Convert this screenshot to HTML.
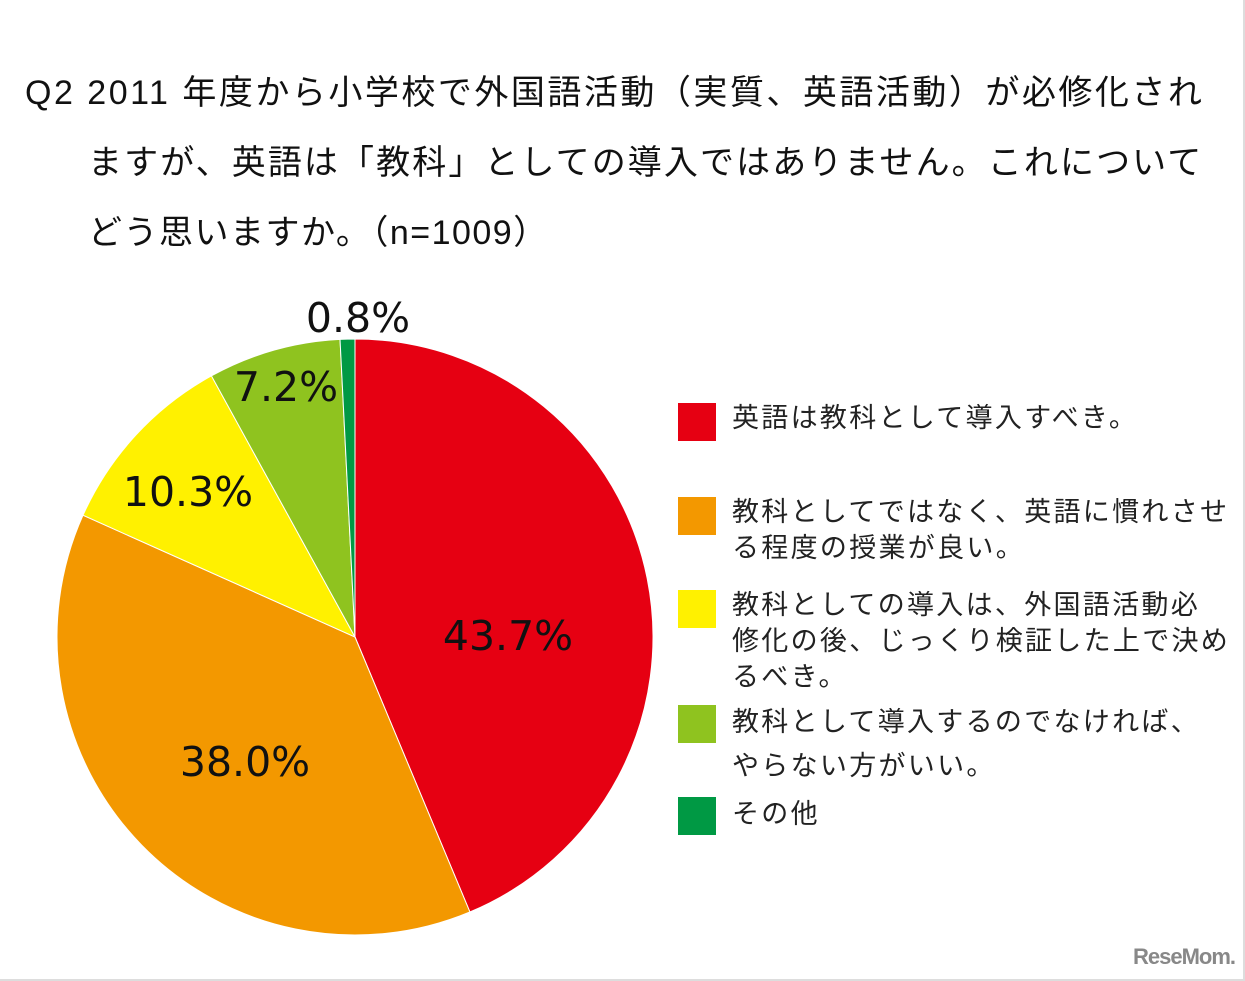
<!DOCTYPE html>
<html><head><meta charset="utf-8"><style>
body{margin:0;width:1245px;height:981px;background:#fff;overflow:hidden;font-family:"Liberation Sans","Noto Sans CJK JP",sans-serif;}
#frame{position:absolute;left:0;top:0;width:1243px;height:979px;border-right:2px solid #ddd;border-bottom:2px solid #ddd;}
.t{position:absolute;font-size:34px;color:#111;white-space:nowrap;}
.lg{position:absolute;font-size:27px;color:#222;line-height:36px;letter-spacing:2.3px;white-space:nowrap;}
.sw{position:absolute;left:678px;width:38px;height:38px;}
</style></head><body>
<div id="frame"></div>
<div class="t" style="left:25px;top:65px;letter-spacing:2.5px">Q2 2011 年度から小学校で外国語活動（実質、英語活動）が必修化され</div>
<div class="t" style="left:88px;top:135px;letter-spacing:2.1px">ますが、英語は「教科」としての導入ではありません。これについて</div>
<div class="t" style="left:88px;top:205px;letter-spacing:1.5px">どう思いますか。（n=1009）</div>
<svg id="pie" width="1245" height="981" style="position:absolute;left:0;top:0"></svg>
<div class="sw" style="top:403px;background:#e60012"></div>
<div class="lg" style="left:732px;top:400px">英語は教科として導入すべき。</div>
<div class="sw" style="top:497px;background:#f39800"></div>
<div class="lg" style="left:732px;top:494px">教科としてではなく、英語に慣れさせ<br>る程度の授業が良い。</div>
<div class="sw" style="top:590px;background:#fff100"></div>
<div class="lg" style="left:732px;top:587px">教科としての導入は、外国語活動必<br>修化の後、じっくり検証した上で決め<br>るべき。</div>
<div class="sw" style="top:705px;background:#8fc31f"></div>
<div class="lg" style="left:732px;top:700px;line-height:44px">教科として導入するのでなければ、<br>やらない方がいい。</div>
<div class="sw" style="top:797px;background:#009944"></div>
<div class="lg" style="left:732px;top:796px">その他</div>
<div style="position:absolute;left:1133px;top:944px;font:bold 22px 'Liberation Sans',sans-serif;color:#888;letter-spacing:-1px">ReseMom.</div>
<script>
const categories=["英語は教科として導入すべき","英語に慣れさせる程度","検証した上で決める","導入しないならやらない","その他"];
const values=[43.7,38.0,10.3,7.2,0.8];
const colors=["#e60012","#f39800","#fff100","#8fc31f","#009944"];
const labelPos=[[508,635],[245,761],[188,491],[286,386],[358,317]];
const svg=document.getElementById('pie');
const NS='http://www.w3.org/2000/svg';
const cx=355,cy=637,r=298;
const total=values.reduce((a,b)=>a+b,0);
let a0=0;
values.forEach((v,i)=>{
  const a1=a0+v/total*2*Math.PI;
  const p=t=>[cx+r*Math.sin(t),cy-r*Math.cos(t)];
  const [x0,y0]=p(a0),[x1,y1]=p(a1);
  const path=document.createElementNS(NS,'path');
  path.setAttribute('d',`M${cx},${cy}L${x0},${y0}A${r},${r} 0 ${a1-a0>Math.PI?1:0} 1 ${x1},${y1}Z`);
  path.setAttribute('fill',colors[i]);
  path.setAttribute('stroke','#fff');path.setAttribute('stroke-width','1');
  
  
  svg.appendChild(path);
  a0=a1;
});
values.forEach((v,i)=>{
  const t=document.createElementNS(NS,'text');
  t.setAttribute('x',labelPos[i][0]);t.setAttribute('y',labelPos[i][1]+15);
  t.setAttribute('text-anchor','middle');
  t.setAttribute('font-size','41');
  t.setAttribute('font-family','"DejaVu Sans",sans-serif');
  t.setAttribute('fill','#111');
  t.textContent=v.toFixed(1)+'%';
  
  
  svg.appendChild(t);
});
</script>
</body></html>
